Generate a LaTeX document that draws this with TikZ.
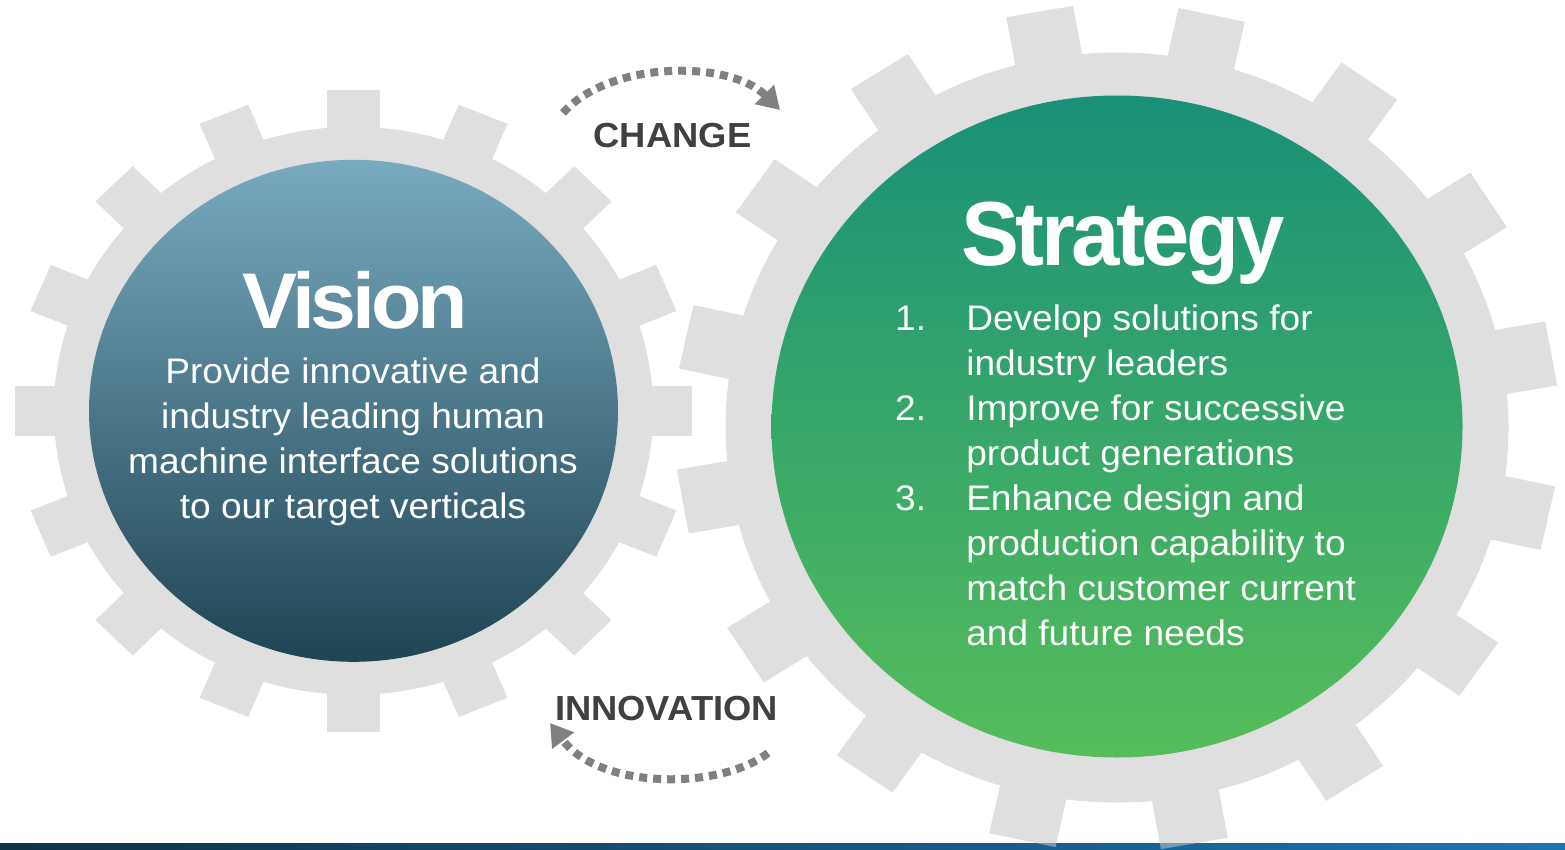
\documentclass[tikz,border=0pt]{standalone}
\usepackage{fontspec}
\setmainfont{Liberation Sans}
\usetikzlibrary{arrows.meta}
\definecolor{gearc}{HTML}{DFDFDF}
\definecolor{vtop}{HTML}{79AABF}
\definecolor{vmid}{HTML}{5B8BA0}
\definecolor{vbot}{HTML}{1F4454}
\definecolor{sgtop}{HTML}{199078}
\definecolor{sgbot}{HTML}{56BD5B}
\definecolor{arrowc}{HTML}{808080}
\definecolor{labelc}{HTML}{404040}
\definecolor{barl}{HTML}{0F3347}
\definecolor{barm}{HTML}{2090A8}
\definecolor{barr}{HTML}{1C74B2}
\newcommand{\hstretch}[1]{\scalebox{1.045}[1]{#1}}
\newcommand{\gearteeth}[7]{%
  \begin{scope}[shift={(#1,#2)}, xscale=#3]
    \fill[gearc] (0,0) circle[radius=#4];
    \foreach \k in {0,...,15}{
      \fill[gearc, rotate={#7+22.5*\k}] ({#4-20},{-#6}) rectangle (#5,#6);
    }
  \end{scope}}
\tikzset{
  dotarrow/.style={draw=arrowc, line width=8pt, dash pattern=on 8pt off 6pt,
    -{Triangle[length=22pt,width=26pt,fill=arrowc]}},
  bodytext/.style={white, inner sep=0pt, font=\fontsize{35.5}{45}\selectfont},
  labeltext/.style={labelc, inner sep=0pt, font=\fontsize{34.8}{40}\selectfont\bfseries},
}
\begin{document}
\begin{tikzpicture}[x=1pt, y=-1pt]
\useasboundingbox (0,0) rectangle (1565,849);
\clip (0,0) rectangle (1565,849);
% gears
\gearteeth{353.5}{410.8}{1.055}{284}{321}{25}{0}
\gearteeth{1117}{427.5}{1.044}{375}{422.5}{32.5}{10.1}
% circles
\shade[top color=vtop, middle color=vmid, bottom color=vbot]
  (353.5,410.8) ellipse[x radius=264.5, y radius=251];
\shade[top color=sgtop, bottom color=sgbot]
  (1117,426.5) ellipse[x radius=345.5, y radius=331];
% bottom bar
\shade[left color=barl, middle color=barm, right color=barr] (0,843) rectangle (1565,849);
\begin{scope}
  \clip (0,843) rectangle (1565,849);
  \begin{scope}[transparency group, opacity=0.45]
    \gearteeth{1117}{427.5}{1.044}{375}{422.5}{32.5}{10.1}
  \end{scope}
\end{scope}
% titles
\node[anchor=base, white, inner sep=0pt,
  font=\fontsize{79}{80}\selectfont\bfseries\addfontfeatures{LetterSpace=-5}]
  (vtitle) at (355.5,328) {\hstretch{Vision}};
\node[anchor=base, bodytext] (vtext) at (353,383)
  {\hstretch{\begin{tabular}[t]{@{}c@{}}Provide innovative and\\industry leading human\\machine interface solutions\\to our target verticals\end{tabular}}};
\node[anchor=base, white, inner sep=0pt,
  font=\fontsize{91}{95}\selectfont\bfseries\addfontfeatures{LetterSpace=-4}]
  (stitle) at (1123,265) {\scalebox{0.955}[1]{Strategy}};
\node[anchor=base west, bodytext] (slist) at (895,330)
  {\hstretch{\begin{tabular}[t]{@{}p{68pt}@{}l@{}}1.&Develop solutions for\\&industry leaders\\2.&Improve for successive\\&product generations\\3.&Enhance design and\\&production capability to\\&match customer current\\&and future needs\end{tabular}}};
% labels
\node[anchor=base, labeltext] (change) at (672.5,147) {\hstretch{CHANGE}};
\node[anchor=base, labeltext] (innov) at (666.5,720) {\hstretch{INNOVATION}};
% arrows
\coordinate (ca) at (563,113);
\coordinate (cb) at (780,110);
\draw[dotarrow] (ca) .. controls (610,60) and (730,60) .. (cb);
\coordinate (ia) at (768,753);
\coordinate (ib) at (550,723);
\draw[dotarrow] (ia) .. controls (720,790) and (600,790) .. (ib);
\end{tikzpicture}
\end{document}
